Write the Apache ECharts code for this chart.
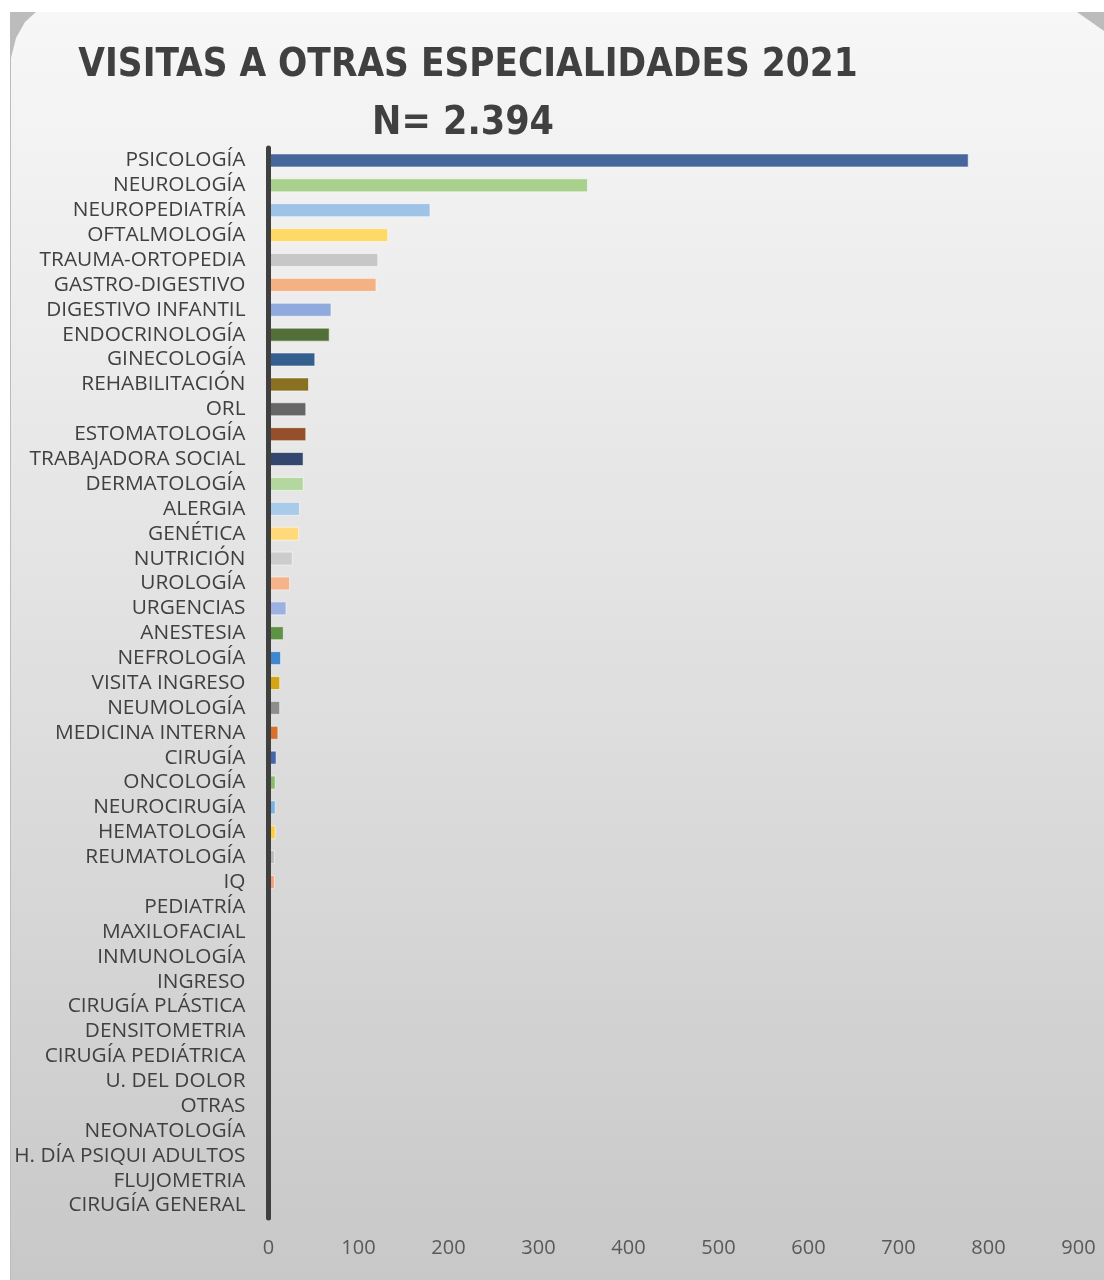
<!DOCTYPE html>
<html>
<head>
<meta charset="utf-8">
<script src="https://cdn.jsdelivr.net/npm/echarts@6/dist/echarts.min.js"></script>
<style>
html,body{margin:0;padding:0;background:#ffffff;}
#chart{width:1104px;height:1280px;}
</style>
</head>
<body>
<div id="chart"></div>
<script>
var titleLine1 = 'VISITAS A OTRAS ESPECIALIDADES 2021';
var titleLine2 = 'N= 2.394';

var categories = [
  'PSICOLOGÍA','NEUROLOGÍA','NEUROPEDIATRÍA','OFTALMOLOGÍA','TRAUMA-ORTOPEDIA',
  'GASTRO-DIGESTIVO','DIGESTIVO INFANTIL','ENDOCRINOLOGÍA','GINECOLOGÍA','REHABILITACIÓN',
  'ORL','ESTOMATOLOGÍA','TRABAJADORA SOCIAL','DERMATOLOGÍA','ALERGIA',
  'GENÉTICA','NUTRICIÓN','UROLOGÍA','URGENCIAS','ANESTESIA',
  'NEFROLOGÍA','VISITA INGRESO','NEUMOLOGÍA','MEDICINA INTERNA','CIRUGÍA',
  'ONCOLOGÍA','NEUROCIRUGÍA','HEMATOLOGÍA','REUMATOLOGÍA','IQ',
  'PEDIATRÍA','MAXILOFACIAL','INMUNOLOGÍA','INGRESO','CIRUGÍA PLÁSTICA',
  'DENSITOMETRIA','CIRUGÍA PEDIÁTRICA','U. DEL DOLOR','OTRAS','NEONATOLOGÍA',
  'H. DÍA PSIQUI ADULTOS','FLUJOMETRIA','CIRUGÍA GENERAL'
];

var visitas = [
  778, 355, 180, 133, 122,
  120, 70, 68, 52, 45,
  42, 42, 39, 39, 35,
  34, 27, 24, 20, 17,
  14, 13, 13, 11, 9,
  8, 8, 8, 7, 7,
  2, 2, 2, 2, 1,
  1, 1, 1, 1, 1,
  1, 1, 1
];

var barColors = [
  '#46669c','#a9d18e','#9dc3e6','#ffd966','#c7c7c7',
  '#f4b183','#8faadc','#536f39','#355f8d','#8a7122',
  '#666666','#94502a','#33466d','#b4d7a0','#a8cbea',
  '#ffd97a','#cccccc','#f5b48a','#9db1e0','#5e9245',
  '#3f88cf','#d4a514','#8e8e8e','#d8702f','#4466a8',
  '#88bc6b','#7cb0e0','#ffcc40','#bbbbbb','#f4a07a',
  '#46669c','#a9d18e','#9dc3e6','#ffd966','#c7c7c7',
  '#f4b183','#8faadc','#536f39','#355f8d','#8a7122',
  '#666666','#94502a','#33466d'
];

var xTicks = { min: 0, max: 900, interval: 100 };

var chart = echarts.init(document.getElementById('chart'));

var barData = visitas.map(function (v, i) {
  return { value: v, itemStyle: { color: barColors[i] } };
});

var titleFont = '"DejaVu Sans Condensed", "DejaVu Sans", sans-serif';

chart.setOption({
  animation: false,
  graphic: [
    { type: 'rect', z: -100, shape: { x: 10, y: 12, width: 1094, height: 1268 }, style: { fill: '#bcbcbc' }, silent: true },
    { type: 'polygon', z: -99, silent: true,
      shape: { points: [[36,12],[1077,12],[1104,31],[1104,1280],[11,1280],[11,58],[16,38],[25,22]] },
      style: { fill: new echarts.graphic.LinearGradient(0, 0, 0, 1, [
        { offset: 0, color: '#f7f7f7' },
        { offset: 0.45, color: '#e3e3e3' },
        { offset: 1, color: '#c8c8c8' }
      ]) }
    }
  ],
  title: [
    { text: titleLine1, left: 463, top: 42, textAlign: 'center',
      textStyle: { fontFamily: titleFont, fontWeight: 'bold', fontSize: 38.3, color: '#404040' } },
    { text: titleLine2, left: 458, top: 99, textAlign: 'center',
      textStyle: { fontFamily: titleFont, fontWeight: 'bold', fontSize: 39, color: '#404040' } }
  ],
  grid: { left: 268.5, right: 25.5, top: 148, bottom: 62, containLabel: false },
  xAxis: {
    type: 'value',
    min: xTicks.min, max: xTicks.max, interval: xTicks.interval,
    axisLine: { show: false },
    axisTick: { show: false },
    splitLine: { show: false },
    axisLabel: { margin: 20, fontSize: 20, color: '#595959', fontFamily: '"Open Sans", sans-serif' }
  },
  yAxis: {
    type: 'category',
    data: categories,
    inverse: true,
    z: 5,
    axisLine: { show: true, lineStyle: { color: '#404040', width: 5 } },
    axisTick: { show: false },
    axisLabel: { margin: 23, fontSize: 20.8, color: '#404040', fontFamily: '"Open Sans", sans-serif', interval: 0 }
  },
  series: [{
    type: 'bar',
    data: barData,
    barWidth: 14,
    itemStyle: { borderColor: 'rgba(255,255,255,0.55)', borderWidth: 1 }
  }]
});
</script>
</body>
</html>
